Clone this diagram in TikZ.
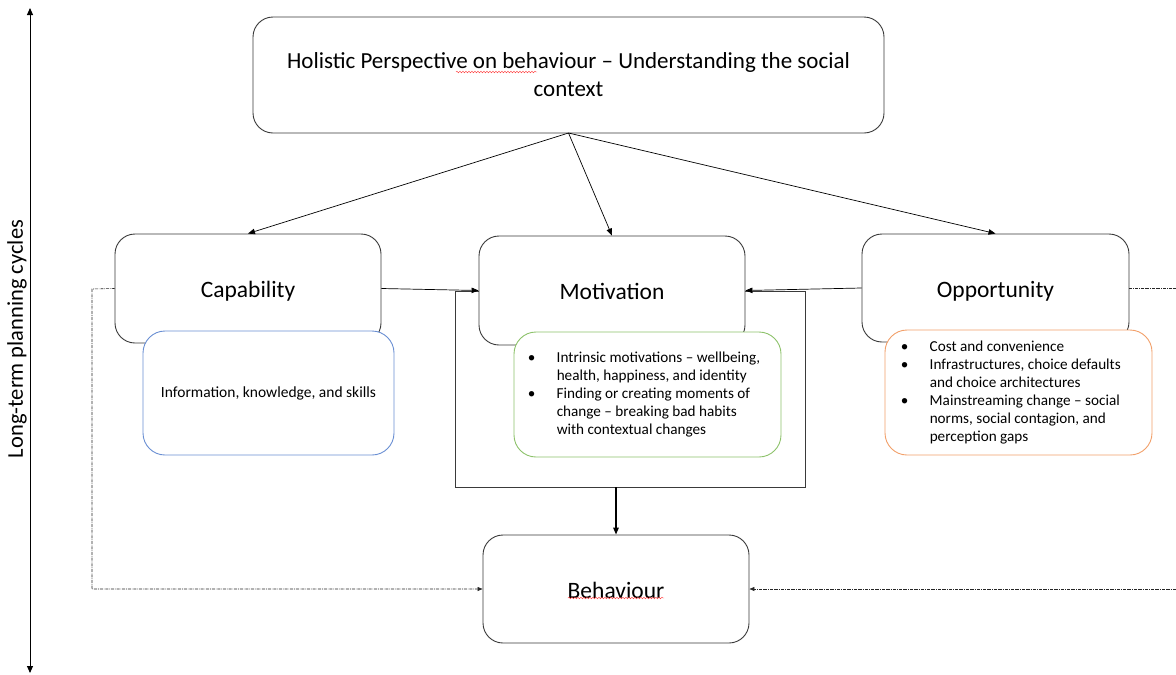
\documentclass[tikz,border=0pt]{standalone}
\usepackage{fontspec}
\setmainfont{Carlito}
\usetikzlibrary{arrows.meta,decorations.pathmorphing}
\definecolor{bluebox}{HTML}{6A8FD3}
\definecolor{greenbox}{HTML}{8DC26B}
\definecolor{orangebox}{HTML}{F2A06A}
\definecolor{boxline}{HTML}{3A3A3A}
\tikzset{
  x=1pt, y=-1pt,
  mainbox/.style={draw=boxline, line width=0.9pt, fill=white, rounded corners=20pt, minimum width=266pt, minimum height=109pt, inner sep=0pt, text height=20pt, text depth=2pt, font=\fontsize{23.5}{28}\selectfont},
  subbox/.style={line width=0.9pt, fill=white, rounded corners=22pt, minimum width=251pt, minimum height=124pt, inner sep=0pt, font=\fontsize{15.5}{18}\selectfont},
  listbox/.style={subbox, minimum width=267pt, minimum height=125pt},
  listtext/.style={anchor=west, inner sep=0pt, align=left, font=\fontsize{15.2}{18}\selectfont},
  conn/.style={draw=black, line width=0.7pt, -{Triangle[length=7pt,width=5.5pt]}},
  dotconn/.style={draw=black!85, line width=0.6pt, densely dash dot},
  squig/.style={draw=red!80, line width=0.4pt, decorate, decoration={snake, amplitude=0.8pt, segment length=3pt}}
}
\newcommand{\bul}{\makebox[29pt][l]{\textbullet}}
\newcommand{\ind}{\hspace*{29pt}}
\begin{document}
\begin{tikzpicture}
\useasboundingbox (0,0) rectangle (1176,675);
% vertical axis
\coordinate (vt) at (30,8);
\coordinate (vb) at (30,673);
\draw[line width=0.9pt, {Triangle[length=7pt,width=6pt]}-{Triangle[length=7pt,width=6pt]}] (vt) -- (vb);
\node[rotate=90, font=\fontsize{22.5}{26}\selectfont] (lbl) at (17,339) {Long-term planning cycles};

% top box
\node[draw=boxline, line width=0.9pt, fill=white, rounded corners=20pt, minimum width=631pt, minimum height=116pt, inner sep=0pt, align=center, font=\fontsize{23}{28}\selectfont] (top) at (568.5,75) {Holistic Perspective on behaviour -- Understanding the social\\context};
\draw[squig] (456,72) -- (537,72);

% enclosing rectangle
\coordinate (r1) at (455,291);
\coordinate (r2) at (805,487);
\draw[draw=boxline, line width=0.9pt] (r1) rectangle (r2);
\coordinate (rb) at (616,487);

% arrows from top
\coordinate (ts) at (568.5,133);
\node[mainbox] (cap) at (248,288.5) {Capability};
\node[mainbox] (mot) at (612,290.5) {Motivation};
\node[mainbox, minimum width=267pt, minimum height=108pt] (opp) at (995.5,288) {Opportunity};
\draw[conn] (ts) -- (cap.north);
\draw[conn] (ts) -- (mot.north);
\draw[conn] (ts) -- (opp.north);

% sub boxes
\node[subbox, draw=bluebox] (info) at (268.5,393) {Information, knowledge, and skills};
\node[listbox, draw=greenbox] (mbox) at (647.5,394.5) {};
\node[listtext] (mtxt) at ([xshift=14pt]mbox.west) {\bul Intrinsic motivations -- wellbeing,\\\ind health, happiness, and identity\\\bul Finding or creating moments of\\\ind change -- breaking bad habits\\\ind with contextual changes};
\node[listbox, draw=orangebox] (obox) at (1018.5,392.5) {};
\node[listtext] (otxt) at ([xshift=16pt]obox.west) {\bul Cost and convenience\\\bul Infrastructures, choice defaults\\\ind and choice architectures\\\bul Mainstreaming change -- social\\\ind norms, social contagion, and\\\ind perception gaps};

% behaviour
\node[mainbox, minimum height=108pt] (beh) at (616,589) {Behaviour};
\draw[squig] (568,598) -- (664,598);

% horizontal arrows into motivation
\draw[conn] (cap.east) -- (mot.west);
\draw[conn] (opp.west) -- (mot.east);
\draw[conn, line width=1.3pt] (rb) -- (beh.north);

% dotted feedback lines
\coordinate (ltop) at (92,289);
\coordinate (lbot) at (92,589);
\draw[dotconn, -{Triangle[length=5pt,width=4pt]}] (cap.west) -- (ltop) -- (lbot) -- (beh.west);
\coordinate (rtop) at (1176,288);
\coordinate (rbot) at (1176,589);
\draw[dotconn] (opp.east) -- (rtop);
\draw[dotconn, -{Triangle[length=5pt,width=4pt]}] (rbot) -- (beh.east);
\end{tikzpicture}
\end{document}
